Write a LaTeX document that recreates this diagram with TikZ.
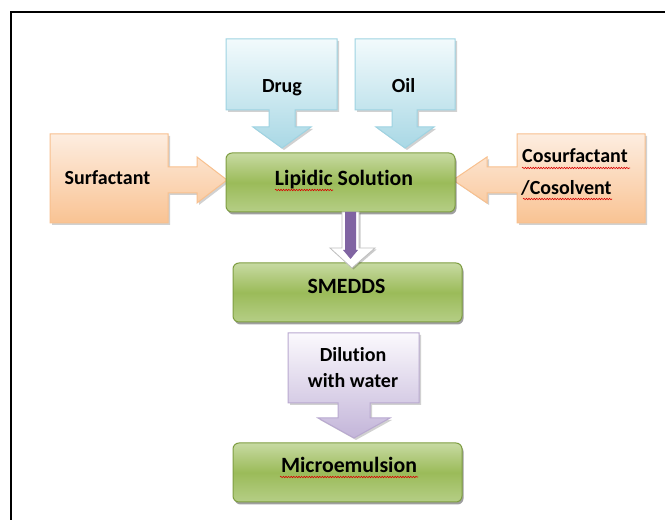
\documentclass[tikz,border=0pt]{standalone}
\usepackage{fontspec}
\setmainfont{Carlito}[Ligatures=NoCommon]
\usetikzlibrary{decorations.pathmorphing,shadows}
\definecolor{gtop}{HTML}{C7DAA2}
\definecolor{gmid}{HTML}{9BBB59}
\definecolor{gbot}{HTML}{B5CE86}
\definecolor{gborder}{HTML}{7F9E42}
\definecolor{btop}{HTML}{F2FAFC}
\definecolor{bbot}{HTML}{A9D8E5}
\definecolor{bborder}{HTML}{9ED3E2}
\definecolor{otop}{HTML}{FDEDE0}
\definecolor{obot}{HTML}{F9C393}
\definecolor{oborder}{HTML}{F8C08E}
\definecolor{ptop}{HTML}{FBF9FD}
\definecolor{pbot}{HTML}{C3B5D9}
\definecolor{pborder}{HTML}{B9A9D0}
\definecolor{purp}{HTML}{8064A2}
\begin{document}
\begin{tikzpicture}[x=1pt,y=-1pt,
  greenbox/.style={rounded corners=6pt, draw=gborder, line width=1pt,
    top color=gtop, bottom color=gbot, middle color=gmid,
    minimum width=229pt, minimum height=59pt, inner sep=0pt,
    drop shadow={shadow xshift=1.5pt,shadow yshift=-2.5pt,opacity=.5,fill=black!75}},
  callshadow/.style={drop shadow={shadow xshift=2pt,shadow yshift=-2pt,opacity=.18,fill=black}},
  bluecall/.style={draw=bborder, line width=1pt, top color=btop, bottom color=bbot, callshadow},
  orangecall/.style={draw=oborder, line width=1pt, top color=otop, bottom color=obot, callshadow},
  purplecall/.style={draw=pborder, line width=1pt, top color=ptop, bottom color=pbot, callshadow},
  boxtext/.style={anchor=base, inner sep=0pt, font=\bfseries\fontsize{21.8}{24}\selectfont},
  calltext/.style={anchor=base, inner sep=0pt, font=\bfseries\fontsize{20}{24}\selectfont},
  wavy/.style={draw=red!85!black, line width=0.6pt, decorate,
    decoration={snake, amplitude=0.7pt, segment length=2.6pt}}]
\useasboundingbox (0,0) rectangle (665,521);
\fill[white] (0,0) rectangle (665,521);
% frame
\draw[line width=2.2pt] (11,520) -- (11,12) -- (665,12);

% callouts
\path[bluecall] (226,39) -- (337,39) -- (337,110) -- (295,110) -- (295,127) -- (311,127)
  -- (282,148) -- (253,127) -- (269,127) -- (269,110) -- (226,110) -- cycle;
\path[bluecall] (355,39) -- (455,39) -- (455,110) -- (417,110) -- (417,127) -- (434,127)
  -- (405,148) -- (376,127) -- (392,127) -- (392,110) -- (355,110) -- cycle;
\path[orangecall] (50,134) -- (168,134) -- (168,167) -- (197,167) -- (197,157) -- (227,180)
  -- (197,203) -- (197,193) -- (168,193) -- (168,223) -- (50,223) -- cycle;
\path[orangecall] (645,134) -- (517,134) -- (517,167) -- (487,167) -- (487,157) -- (453,180)
  -- (487,203) -- (487,193) -- (517,193) -- (517,223) -- (645,223) -- cycle;
\path[purplecall] (288,333) -- (419,333) -- (419,403) -- (370,403) -- (370,418) -- (390,418)
  -- (354,438) -- (318,418) -- (338,418) -- (338,403) -- (288,403) -- cycle;

\node[calltext] (drug) at (282,93) {Drug};
\node[calltext] (oil) at (403.5,93) {Oil};
\node[calltext] (surf) at (107.5,185) {Surfactant};
\node[calltext, anchor=base west] (cosurf) at (522,163) {Cosurfactant};
\node[calltext, anchor=base west] (cosolv) at (521,195) {/Cosolvent};
\node[calltext] (dil1) at (353,362) {Dilution};
\node[calltext] (dil2) at (353,388) {with water};

% green boxes
\node[greenbox] (lipid) at (340.5,182.5) {};
\node[greenbox] (smedds) at (347.5,292.5) {};
\node[greenbox] (micro) at (347.5,472.5) {};
\node[boxtext] (lipidT) at (344,186) {Lipidic Solution};
\node[boxtext] (smeddsT) at (346.5,294) {SMEDDS};
\node[boxtext] (microT) at (349,473) {Microemulsion};

% arrow lipid -> smedds
\path[fill=white, draw=black!25, line width=0.8pt,
  drop shadow={shadow xshift=1.5pt,shadow yshift=-1.5pt,opacity=.2,fill=black}]
  (342,212) -- (359,212) -- (359,248) -- (375,248) -- (352,268)
  -- (330,248) -- (342,248) -- cycle;
\fill[purp] (345,212) -- (356,212) -- (356,250) -- (358,250) -- (350.5,259)
  -- (343,250) -- (345,250) -- cycle;

% spell-check underlines
\draw[wavy] (275,190) -- (333,190);
\draw[wavy] (280,477) -- (418,477);
\draw[wavy] (522,168) -- (630,168);
\draw[wavy] (523,199) -- (612,199);
\end{tikzpicture}
\end{document}
